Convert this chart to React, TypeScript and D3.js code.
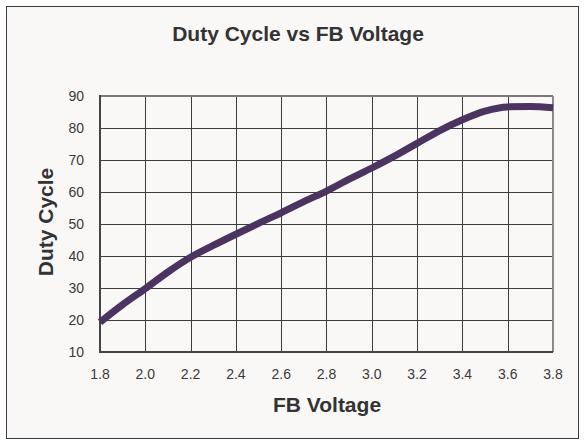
import React, { useEffect, useRef } from "react";
import * as d3 from "d3";

const voltage = [1.8, 1.9, 2.0, 2.1, 2.2, 2.3, 2.4, 2.5, 2.6, 2.7, 2.8, 2.9, 3.0, 3.1, 3.2, 3.3, 3.4, 3.5, 3.6, 3.7, 3.8];
const duty = [19.3, 24.8, 29.8, 35.0, 39.6, 43.3, 46.8, 50.2, 53.5, 57.0, 60.3, 64.0, 67.5, 71.2, 75.2, 79.2, 82.6, 85.3, 86.6, 86.7, 86.3];
const xTicks = [1.8, 2.0, 2.2, 2.4, 2.6, 2.8, 3.0, 3.2, 3.4, 3.6, 3.8];
const yTicks = [10, 20, 30, 40, 50, 60, 70, 80, 90];

const W = 584;
const H = 446;
const plot = { left: 100, right: 553, top: 96, bottom: 352 };
const font = "'Liberation Sans', Arial, sans-serif";

const App = () => {
  const ref = useRef<SVGSVGElement>(null);

  useEffect(() => {
    const svg = d3.select(ref.current);
    svg.selectAll("*").remove();

    const x = d3.scaleLinear().domain([1.8, 3.8]).range([plot.left, plot.right]);
    const y = d3.scaleLinear().domain([10, 90]).range([plot.bottom, plot.top]);

    svg.append("rect")
      .attr("width", W).attr("height", H).attr("fill", "#ffffff");
    svg.append("rect")
      .attr("x", 6.5).attr("y", 6.5).attr("width", 572).attr("height", 432)
      .attr("fill", "#f9f8f6").attr("stroke", "#3a3a3a").attr("stroke-width", 1);

    // grid
    const g = svg.append("g");
    g.selectAll("line.v").data(xTicks.slice(1, -1)).join("line")
      .attr("x1", d => Math.round(x(d)) + 0.5).attr("x2", d => Math.round(x(d)) + 0.5)
      .attr("y1", plot.top).attr("y2", plot.bottom)
      .attr("stroke", "#3c3c3c").attr("stroke-width", 1);
    g.selectAll("line.h").data(yTicks.slice(1, -1)).join("line")
      .attr("y1", d => Math.round(y(d)) + 0.5).attr("y2", d => Math.round(y(d)) + 0.5)
      .attr("x1", plot.left).attr("x2", plot.right)
      .attr("stroke", "#3c3c3c").attr("stroke-width", 1);

    // frame
    svg.append("line").attr("x1", plot.left).attr("x2", plot.right)
      .attr("y1", plot.top).attr("y2", plot.top).attr("stroke", "#7a7a7a").attr("stroke-width", 2);
    svg.append("line").attr("x1", plot.right).attr("x2", plot.right)
      .attr("y1", plot.top).attr("y2", plot.bottom).attr("stroke", "#8a8a8a").attr("stroke-width", 2);
    svg.append("line").attr("x1", plot.left).attr("x2", plot.right)
      .attr("y1", plot.bottom).attr("y2", plot.bottom).attr("stroke", "#444").attr("stroke-width", 2);
    svg.append("line").attr("x1", plot.left).attr("x2", plot.left)
      .attr("y1", plot.top - 1).attr("y2", plot.bottom + 1).attr("stroke", "#444").attr("stroke-width", 2);

    // tick labels
    svg.selectAll("text.xt").data(xTicks).join("text")
      .attr("x", d => x(d)).attr("y", plot.bottom + 27)
      .attr("text-anchor", "middle").attr("font-family", font).attr("font-size", 14)
      .attr("fill", "#3a3a3a").text(d => d.toFixed(1));
    svg.selectAll("text.yt").data(yTicks).join("text")
      .attr("x", plot.left - 16).attr("y", d => y(d) + 5)
      .attr("text-anchor", "end").attr("font-family", font).attr("font-size", 14)
      .attr("fill", "#3a3a3a").text(d => d);

    // series
    const line = d3.line<number>()
      .x((d, i) => x(voltage[i]))
      .y(d => y(d))
      .curve(d3.curveMonotoneX);
    svg.append("path").datum(duty)
      .attr("d", line)
      .attr("fill", "none").attr("stroke", "#4b3560").attr("stroke-width", 7)
      .attr("stroke-linejoin", "round");

    // titles
    svg.append("text").attr("x", 298).attr("y", 41).attr("text-anchor", "middle")
      .attr("font-family", font).attr("font-weight", "bold").attr("font-size", 21)
      .attr("fill", "#333").text("Duty Cycle vs FB Voltage");
    svg.append("text").attr("x", 327).attr("y", 412).attr("text-anchor", "middle")
      .attr("font-family", font).attr("font-weight", "bold").attr("font-size", 21)
      .attr("fill", "#333").text("FB Voltage");
    svg.append("text")
      .attr("transform", `translate(53,222) rotate(-90)`)
      .attr("text-anchor", "middle")
      .attr("font-family", font).attr("font-weight", "bold").attr("font-size", 21)
      .attr("fill", "#333").text("Duty Cycle");
  }, []);

  return (
    <svg ref={ref} width={W} height={H} style={{ position: "absolute", left: 0, top: 0 }} />
  );
};

export default App;
